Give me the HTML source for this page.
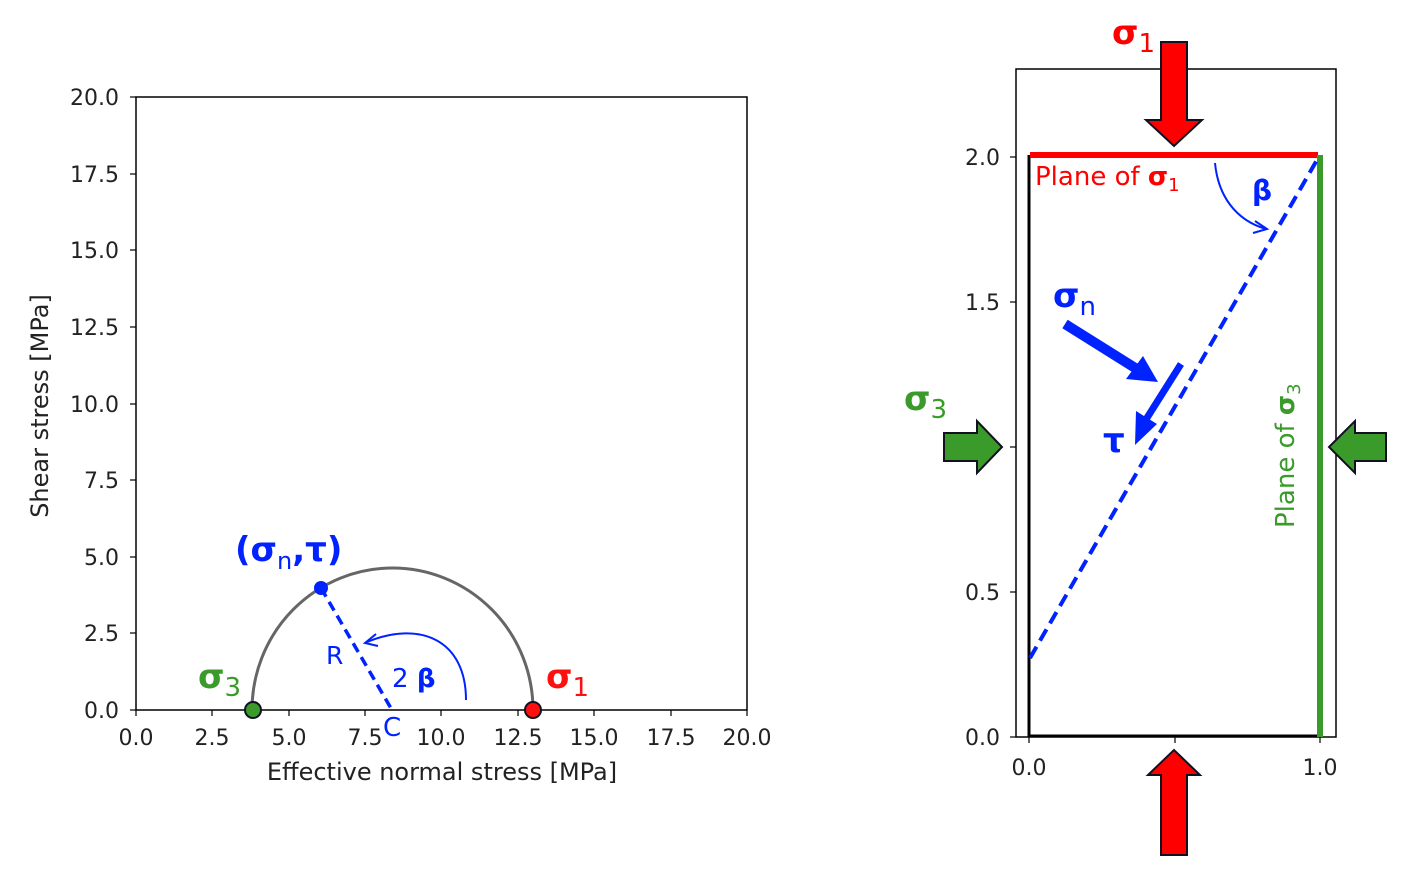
<!DOCTYPE html>
<html><head><style>body{margin:0;background:#fff}svg{display:block}text{font-family:"DejaVu Sans","Liberation Sans",sans-serif}</style></head>
<body>
<svg width="1410" height="878" viewBox="0 0 1410 878" xmlns="http://www.w3.org/2000/svg">
<!-- LEFT PLOT -->
<rect x="136" y="97" width="611" height="613" fill="none" stroke="#000" stroke-width="1.5"/>
<g stroke="#000" stroke-width="1.2">
<line x1="136" y1="710" x2="136" y2="716"/><line x1="212" y1="710" x2="212" y2="716"/><line x1="289" y1="710" x2="289" y2="716"/><line x1="365" y1="710" x2="365" y2="716"/><line x1="441" y1="710" x2="441" y2="716"/><line x1="518" y1="710" x2="518" y2="716"/><line x1="594" y1="710" x2="594" y2="716"/><line x1="671" y1="710" x2="671" y2="716"/><line x1="747" y1="710" x2="747" y2="716"/>
<line x1="130" y1="710" x2="136" y2="710"/><line x1="130" y1="633" x2="136" y2="633"/><line x1="130" y1="557" x2="136" y2="557"/><line x1="130" y1="480" x2="136" y2="480"/><line x1="130" y1="404" x2="136" y2="404"/><line x1="130" y1="327" x2="136" y2="327"/><line x1="130" y1="250" x2="136" y2="250"/><line x1="130" y1="174" x2="136" y2="174"/><line x1="130" y1="97" x2="136" y2="97"/>
</g>
<g font-size="22" fill="#222" text-anchor="middle">
<text x="136" y="745">0.0</text><text x="212" y="745">2.5</text><text x="289" y="745">5.0</text><text x="365" y="745">7.5</text><text x="441" y="745">10.0</text><text x="518" y="745">12.5</text><text x="594" y="745">15.0</text><text x="671" y="745">17.5</text><text x="747" y="745">20.0</text>
</g>
<g font-size="22" fill="#222" text-anchor="end">
<text x="119" y="718">0.0</text><text x="119" y="641">2.5</text><text x="119" y="565">5.0</text><text x="119" y="488">7.5</text><text x="119" y="412">10.0</text><text x="119" y="335">12.5</text><text x="119" y="258">15.0</text><text x="119" y="182">17.5</text><text x="119" y="105">20.0</text>
</g>
<text x="442" y="780" font-size="24" fill="#222" text-anchor="middle">Effective normal stress [MPa]</text>
<text transform="translate(48,406) rotate(-90)" font-size="24" fill="#222" text-anchor="middle">Shear stress [MPa]</text>
<path d="M252,710 A140.5,142 0 0 1 533,710" fill="none" stroke="#666" stroke-width="3"/>
<line x1="321" y1="588" x2="392" y2="710" stroke="#0022ff" stroke-width="3.5" stroke-dasharray="10,6"/>
<path d="M466,700 C466,640 420,620 367,642" fill="none" stroke="#0022ff" stroke-width="2"/>
<path d="M376,634 L365,643 L378,646" fill="none" stroke="#0022ff" stroke-width="2"/>
<circle cx="321" cy="588" r="7" fill="#0022ff"/>
<circle cx="253" cy="710" r="8" fill="#3a9a2a" stroke="#112" stroke-width="2"/>
<circle cx="533" cy="710" r="8" fill="#ff1010" stroke="#112" stroke-width="2"/>
<text x="326" y="664" font-size="25" fill="#0022ff">R</text>
<text x="392" y="687" font-size="26" fill="#0022ff">2 <tspan font-weight="bold">β</tspan></text>
<text x="383" y="736" font-size="26" fill="#0022ff">C</text>
<text x="235" y="561" font-size="34" font-weight="bold" fill="#0022ff">(σ<tspan font-size="24" font-weight="normal" dy="8">n</tspan><tspan dy="-8">,τ)</tspan></text>
<text x="198" y="688" font-size="34" font-weight="bold" fill="#3a9a2a">σ<tspan font-size="26" font-weight="normal" dy="8">3</tspan></text>
<text x="546" y="688" font-size="34" font-weight="bold" fill="#ff1010">σ<tspan font-size="26" font-weight="normal" dy="8">1</tspan></text>

<!-- RIGHT PLOT -->
<rect x="1016" y="69" width="320" height="668" fill="none" stroke="#000" stroke-width="1.5"/>
<g stroke="#000" stroke-width="1.2">
<line x1="1010" y1="737" x2="1016" y2="737"/><line x1="1010" y1="592" x2="1016" y2="592"/><line x1="1010" y1="447" x2="1016" y2="447"/><line x1="1010" y1="302" x2="1016" y2="302"/><line x1="1010" y1="157" x2="1016" y2="157"/>
<line x1="1029" y1="737" x2="1029" y2="743"/><line x1="1320" y1="737" x2="1320" y2="743"/><line x1="1175" y1="737" x2="1175" y2="743"/>
</g>
<g font-size="22" fill="#222" text-anchor="end">
<text x="1000" y="745">0.0</text><text x="1000" y="600">0.5</text><text x="1000" y="310">1.5</text><text x="1000" y="165">2.0</text>
</g>
<text x="1029" y="775" font-size="22" fill="#222" text-anchor="middle">0.0</text>
<text x="1320" y="775" font-size="22" fill="#222" text-anchor="middle">1.0</text>
<line x1="1029" y1="155" x2="1029" y2="737" stroke="#000" stroke-width="3"/>
<line x1="1029" y1="736" x2="1320" y2="736" stroke="#000" stroke-width="3"/>
<line x1="1030" y1="155" x2="1318" y2="155" stroke="#ff0000" stroke-width="6"/>
<line x1="1320" y1="155" x2="1320" y2="737" stroke="#3a9a2a" stroke-width="6"/>
<line x1="1030" y1="658" x2="1317" y2="160" stroke="#0022ff" stroke-width="4" stroke-dasharray="13,7"/>
<text x="1035" y="185" font-size="26" fill="#ff0000">Plane of <tspan font-weight="bold">σ</tspan><tspan font-size="18" dy="6">1</tspan></text>
<text transform="translate(1294,528) rotate(-90)" font-size="26" fill="#3a9a2a">Plane of <tspan font-weight="bold">σ</tspan><tspan font-size="18" dy="6">3</tspan></text>
<path d="M1215,163 C1218,195 1235,220 1266,229" fill="none" stroke="#0022ff" stroke-width="2"/>
<path d="M1255,221 L1267,229 L1253,233" fill="none" stroke="#0022ff" stroke-width="2"/>
<text x="1252" y="200" font-size="28" font-weight="bold" fill="#0022ff">β</text>
<line x1="1065" y1="324" x2="1140" y2="371" stroke="#0022ff" stroke-width="10"/>
<polygon points="1158,382 1126,379 1143,356" fill="#0022ff"/>
<line x1="1181" y1="364" x2="1145" y2="421" stroke="#0022ff" stroke-width="7"/>
<polygon points="1135,445 1136,411 1157,424" fill="#0022ff"/>
<text x="1053" y="307" font-size="34" font-weight="bold" fill="#0022ff">σ<tspan font-size="26" font-weight="normal" dy="8">n</tspan></text>
<text x="1103" y="452" font-size="34" font-weight="bold" fill="#0022ff">τ</text>
<text x="1112" y="44" font-size="34" font-weight="bold" fill="#ff0000">σ<tspan font-size="26" font-weight="normal" dy="8">1</tspan></text>
<text x="904" y="410" font-size="34" font-weight="bold" fill="#3a9a2a">σ<tspan font-size="26" font-weight="normal" dy="8">3</tspan></text>
<polygon points="1161,42 1187,42 1187,120 1202,120 1174,146 1146,120 1161,120" fill="#ff0000" stroke="#112" stroke-width="2"/>
<polygon points="1161,855 1187,855 1187,775 1200,775 1174,750 1148,775 1161,775" fill="#ff0000" stroke="#112" stroke-width="2"/>
<polygon points="944,433 977,433 977,421 1002,447 977,473 977,461 944,461" fill="#3a9a2a" stroke="#112" stroke-width="2"/>
<polygon points="1386,433 1355,433 1355,421 1329,447 1355,473 1355,461 1386,461" fill="#3a9a2a" stroke="#112" stroke-width="2"/>
</svg>
</body></html>
